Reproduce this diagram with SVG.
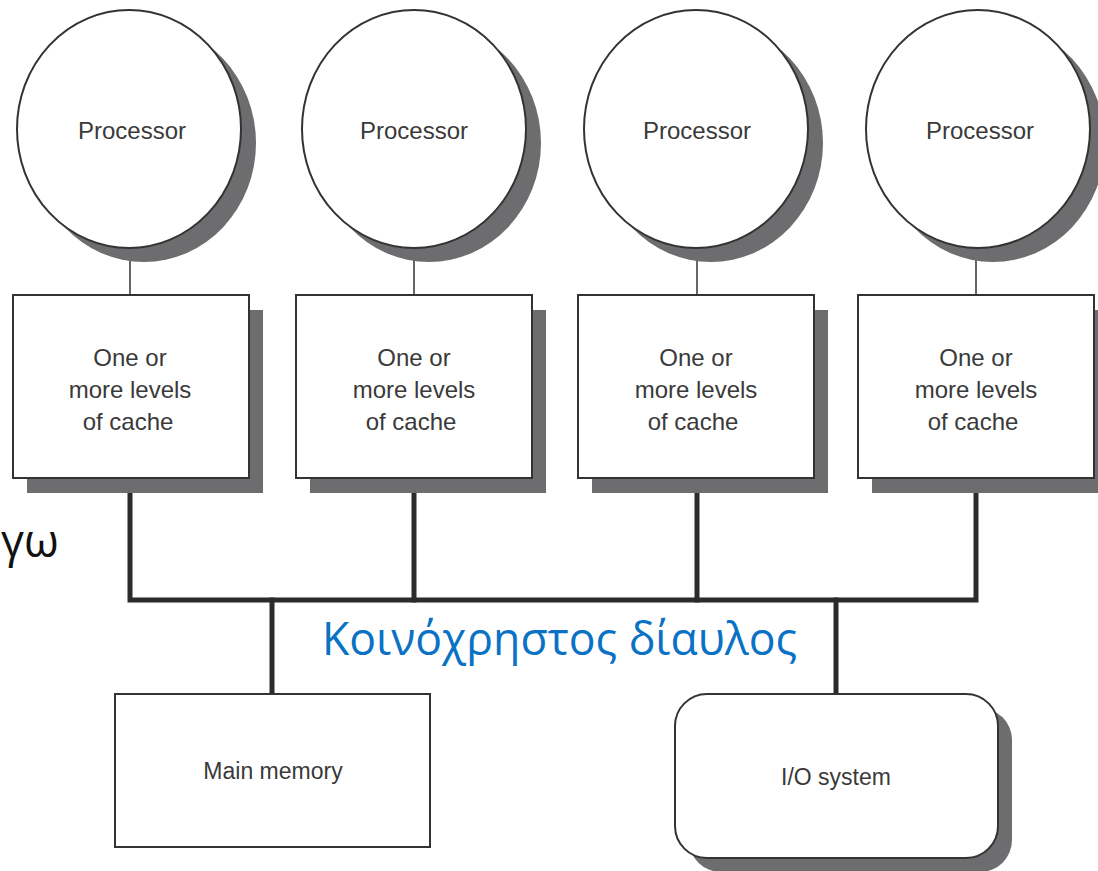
<svg xmlns="http://www.w3.org/2000/svg" width="1098" height="871" viewBox="0 0 1098 871">
  <style>
    .shadow { fill: #6d6d70; stroke: none; }
    .shape { fill: #ffffff; stroke: #333333; stroke-width: 2; }
    .label { font-family: "Liberation Sans", Arial, sans-serif; font-size: 24px; fill: #3a3a3a; text-anchor: middle; }
    .small { font-size: 23px; }
    .thin { stroke: #333333; stroke-width: 1.5; fill: none; }
    .bus { stroke: #2b2b2b; stroke-width: 5; fill: none; stroke-linecap: square; }
    .greek { font-family: "Open Sans", "Noto Sans", sans-serif; font-size: 45px; }
  </style>

  <rect width="1098" height="871" fill="#ffffff"/>

  <!-- bus and links -->
  <g id="connectors">
    <line class="thin" x1="130" y1="248" x2="130" y2="295"/>
    <line class="thin" x1="414" y1="248" x2="414" y2="295"/>
    <line class="thin" x1="697" y1="248" x2="697" y2="295"/>
    <line class="thin" x1="976" y1="248" x2="976" y2="295"/>
    <path class="bus" d="M130 479 V600 H976 V479"/>
    <line class="bus" x1="414" y1="479" x2="414" y2="600"/>
    <line class="bus" x1="697" y1="479" x2="697" y2="600"/>
    <line class="bus" x1="272" y1="600" x2="272" y2="693"/>
    <line class="bus" x1="836" y1="600" x2="836" y2="693"/>
  </g>

  <!-- processors -->
  <g id="cpu1">
    <ellipse class="shadow" cx="144" cy="143" rx="112" ry="119"/>
    <ellipse class="shape" cx="129" cy="129" rx="112" ry="119"/>
    <text class="label" x="132" y="139">Processor</text>
  </g>
  <g id="cpu2">
    <ellipse class="shadow" cx="429" cy="143" rx="112" ry="119"/>
    <ellipse class="shape" cx="414" cy="129" rx="112" ry="119"/>
    <text class="label" x="414" y="139">Processor</text>
  </g>
  <g id="cpu3">
    <ellipse class="shadow" cx="711" cy="143" rx="112" ry="119"/>
    <ellipse class="shape" cx="696" cy="129" rx="112" ry="119"/>
    <text class="label" x="697" y="139">Processor</text>
  </g>
  <g id="cpu4">
    <ellipse class="shadow" cx="993" cy="143" rx="112" ry="119"/>
    <ellipse class="shape" cx="978" cy="129" rx="112" ry="119"/>
    <text class="label" x="980" y="139">Processor</text>
  </g>

  <!-- caches -->
  <g id="cache1">
    <rect class="shadow" x="27" y="310" width="236" height="183"/>
    <rect class="shape" x="13" y="295" width="236" height="183"/>
    <text class="label" x="130" y="366">One or</text>
    <text class="label" x="130" y="398">more levels</text>
    <text class="label" x="128" y="430">of cache</text>
  </g>
  <g id="cache2">
    <rect class="shadow" x="310" y="310" width="236" height="183"/>
    <rect class="shape" x="296" y="295" width="236" height="183"/>
    <text class="label" x="414" y="366">One or</text>
    <text class="label" x="414" y="398">more levels</text>
    <text class="label" x="411" y="430">of cache</text>
  </g>
  <g id="cache3">
    <rect class="shadow" x="592" y="310" width="236" height="183"/>
    <rect class="shape" x="578" y="295" width="236" height="183"/>
    <text class="label" x="696" y="366">One or</text>
    <text class="label" x="696" y="398">more levels</text>
    <text class="label" x="693" y="430">of cache</text>
  </g>
  <g id="cache4">
    <rect class="shadow" x="872" y="310" width="236" height="183"/>
    <rect class="shape" x="858" y="295" width="236" height="183"/>
    <text class="label" x="976" y="366">One or</text>
    <text class="label" x="976" y="398">more levels</text>
    <text class="label" x="973" y="430">of cache</text>
  </g>

  <!-- memory and I/O -->
  <g id="memory">
    <rect class="shape" x="115" y="694" width="315" height="153"/>
    <text class="label small" x="273" y="779">Main memory</text>
  </g>
  <g id="io">
    <rect class="shadow" x="689" y="708" width="323" height="164" rx="32"/>
    <rect class="shape" x="675" y="694" width="323" height="164" rx="32"/>
    <text class="label small" x="836" y="785">I/O system</text>
  </g>

  <!-- captions -->
  <g id="captions">
    <text class="greek" x="1" y="557" fill="#111111">γω</text>
    <text class="greek" x="322" y="655" fill="#0a72c4" textLength="475" lengthAdjust="spacingAndGlyphs">Κοινόχρηστος δίαυλος</text>
  </g>
</svg>
